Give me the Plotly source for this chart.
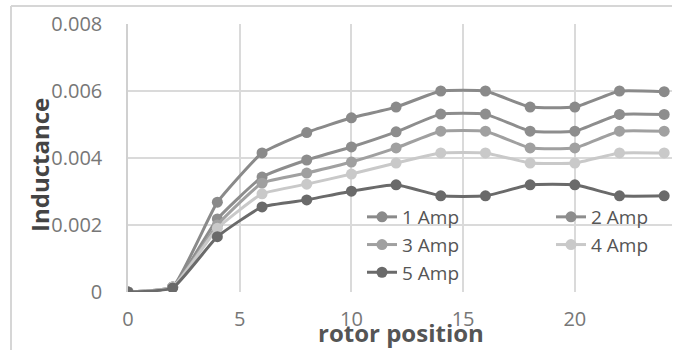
import plotly.graph_objects as go

rotor_position = [0, 2, 4, 6, 8, 10, 12, 14, 16, 18, 20, 22, 24]
amp1 = [0, 0.00015, 0.00268, 0.00415, 0.00476, 0.0052, 0.00552, 0.0060, 0.0060, 0.00552, 0.00552, 0.0060, 0.00598]
amp2 = [0, 0.00015, 0.00218, 0.00343, 0.00394, 0.00433, 0.00478, 0.00531, 0.00531, 0.0048, 0.0048, 0.0053, 0.0053]
amp3 = [0, 0.00015, 0.0020, 0.00325, 0.00355, 0.00388, 0.0043, 0.0048, 0.0048, 0.0043, 0.0043, 0.0048, 0.0048]
amp4 = [0, 0.00015, 0.0019, 0.00293, 0.00322, 0.00352, 0.00385, 0.00415, 0.00415, 0.00385, 0.00385, 0.00415, 0.00415]
amp5 = [0, 0.00012, 0.00165, 0.00254, 0.00275, 0.00301, 0.0032, 0.00287, 0.00287, 0.0032, 0.0032, 0.00287, 0.00287]

series_names = ["1 Amp", "2 Amp", "3 Amp", "4 Amp", "5 Amp"]
series_values = [amp1, amp2, amp3, amp4, amp5]
line_colors = ["#8a8a8a", "#8d8d8d", "#a0a0a0", "#c9c9c9", "#6a6a6a"]
legend_ids = ["legend", "legend2", "legend", "legend2", "legend"]

y_ticks = [0, 0.002, 0.004, 0.006, 0.008]
y_tick_labels = ["0", "0.002", "0.004", "0.006", "0.008"]
x_ticks = [0, 5, 10, 15, 20]

FONT = "Open Sans"

fig = go.Figure()
for name, vals, col, lg in zip(series_names, series_values, line_colors, legend_ids):
    fig.add_trace(go.Scatter(
        x=rotor_position, y=vals, name=name, mode="lines+markers",
        line=dict(color=col, width=3, shape="spline", smoothing=0.4),
        marker=dict(color=col, size=11),
        legend=lg, legendgroup=name,
    ))

# plot area: x from 128 to 672 px, y from 24 to 292 px
L, R, T, B = 128, 9, 24, 58
W, H = 681, 350
pw, ph = W - L - R, H - T - B

def px_x(p):
    return (p - L) / pw

def px_y(p):
    return (H - B - p) / ph

legend_common = dict(
    font=dict(family=FONT, size=19, color="#555555"),
    bgcolor="rgba(0,0,0,0)", borderwidth=0,
    tracegroupgap=0, itemwidth=30,
    xanchor="left", yanchor="top",
)

fig.update_layout(
    width=W, height=H,
    margin=dict(l=L, r=R, t=T, b=B, autoexpand=False),
    paper_bgcolor="white", plot_bgcolor="white",
    font=dict(family=FONT, color="#777777"),
    xaxis=dict(
        range=[0, 24.35], tickvals=x_ticks, ticktext=[str(v) for v in x_ticks],
        showgrid=True, gridcolor="#dadada", gridwidth=1.5,
        zeroline=False, showline=False, automargin=False,
        tickfont=dict(family=FONT, size=20, color="#777777"),
        ticks="", ticklabelstandoff=13,
    ),
    yaxis=dict(
        range=[0, 0.008], tickvals=y_ticks, ticktext=y_tick_labels,
        showgrid=True, gridcolor="#dadada", gridwidth=1.5,
        zeroline=False, showline=True, linecolor="#d0d0d0", linewidth=1.5,
        automargin=False,
        tickfont=dict(family=FONT, size=20, color="#777777"),
        ticks="", ticklabelstandoff=20,
    ),
    legend=dict(x=px_x(362), y=px_y(198), **legend_common),
    legend2=dict(x=px_x(551), y=px_y(198), **legend_common),
    showlegend=True,
)

fig.add_annotation(
    text="<b>Inductance</b>", textangle=-90, showarrow=False,
    xref="paper", yref="paper", x=px_x(39), y=px_y(165),
    xanchor="center", yanchor="middle",
    font=dict(family=FONT, size=24, color="#444444"),
)
fig.add_annotation(
    text="<b>rotor position</b>", showarrow=False,
    xref="paper", yref="paper", x=px_x(401), y=px_y(332),
    xanchor="center", yanchor="middle",
    font=dict(family=FONT, size=24, color="#555555"),
)

# outer chart frame (left and top edges visible in the crop)
fig.add_shape(type="line", xref="paper", yref="paper",
              x0=px_x(11), x1=px_x(11), y0=px_y(6), y1=px_y(352),
              line=dict(color="#d6d6d6", width=2), layer="below")
fig.add_shape(type="line", xref="paper", yref="paper",
              x0=px_x(11), x1=px_x(672), y0=px_y(6), y1=px_y(6),
              line=dict(color="#d6d6d6", width=2), layer="below")

fig.write_html("out.html",
               config={"displayModeBar": False},
               post_script="document.body.style.margin='0';document.body.style.overflow='hidden';")
